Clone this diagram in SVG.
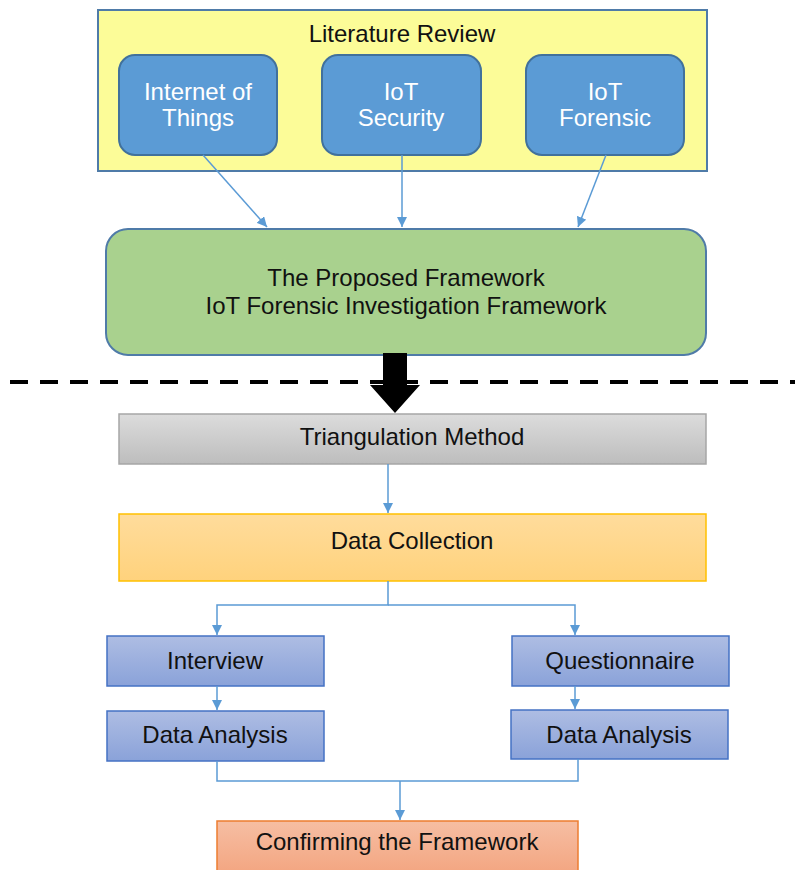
<svg xmlns="http://www.w3.org/2000/svg" width="795" height="870" viewBox="0 0 795 870">
<style>
text{font-family:"Liberation Sans",Arial,sans-serif;font-size:24px;fill:#111;text-anchor:middle}
.w{fill:#fff}
.blue{fill:#5b9bd5;stroke:#41719c;stroke-width:2}
.conn{fill:none;stroke:#5b9bd5;stroke-width:1.5}
.pur{fill:url(#gPur);stroke:#4472c4;stroke-width:1.5}
</style>
<defs>
<marker id="ah" viewBox="0 0 10 10" refX="10" refY="5" markerWidth="10" markerHeight="10" markerUnits="userSpaceOnUse" orient="auto">
<path d="M0,0 L10,5 L0,10 z" fill="#5b9bd5"/>
</marker>
<linearGradient id="gGrey" x1="0" y1="0" x2="0" y2="1"><stop offset="0" stop-color="#dcdcdc"/><stop offset="1" stop-color="#bdbdbd"/></linearGradient>
<linearGradient id="gOr" x1="0" y1="0" x2="0" y2="1"><stop offset="0" stop-color="#ffdc9c"/><stop offset="1" stop-color="#ffd27c"/></linearGradient>
<linearGradient id="gPur" x1="0" y1="0" x2="0" y2="1"><stop offset="0" stop-color="#aebde3"/><stop offset="1" stop-color="#8aa2d9"/></linearGradient>
<linearGradient id="gSal" x1="0" y1="0" x2="0" y2="1"><stop offset="0" stop-color="#f6bea3"/><stop offset="1" stop-color="#f3a47f"/></linearGradient>
</defs>

<g id="literature-review">
<rect x="98" y="10" width="609" height="161" fill="#fcfc98" stroke="#4f7ba8" stroke-width="2"/>
<text x="402" y="41.5">Literature Review</text>
</g>
<g id="internet-of-things">
<rect class="blue" x="119" y="55" width="158" height="100" rx="16"/>
<text class="w" x="198" y="99.5">Internet of</text>
<text class="w" x="198" y="125.5">Things</text>
</g>
<g id="iot-security">
<rect class="blue" x="322" y="55" width="159" height="100" rx="16"/>
<text class="w" x="401" y="99.5">IoT</text>
<text class="w" x="401" y="125.5">Security</text>
</g>
<g id="iot-forensic">
<rect class="blue" x="526" y="55" width="158" height="100" rx="16"/>
<text class="w" x="605" y="99.5">IoT</text>
<text class="w" x="605" y="125.5">Forensic</text>
</g>
<g id="proposed-framework">
<rect x="106" y="229" width="600" height="126" rx="22" fill="#a9d18e" stroke="#4f7ba8" stroke-width="2"/>
<text x="406" y="285.5">The Proposed Framework</text>
<text x="406" y="313.5">IoT Forensic Investigation Framework</text>
</g>
<g id="triangulation-method">
<rect x="119" y="414" width="587" height="50" fill="url(#gGrey)" stroke="#a6a6a6" stroke-width="1.5"/>
<text x="412" y="444.5">Triangulation Method</text>
</g>
<g id="data-collection">
<rect x="119" y="514" width="587" height="67" fill="url(#gOr)" stroke="#ffc000" stroke-width="1.5"/>
<text x="412" y="548.5">Data Collection</text>
</g>
<g id="interview">
<rect class="pur" x="107" y="636" width="217" height="50"/>
<text x="215" y="668.5">Interview</text>
</g>
<g id="questionnaire">
<rect class="pur" x="512" y="636" width="217" height="50"/>
<text x="620" y="668.5">Questionnaire</text>
</g>
<g id="data-analysis-left">
<rect class="pur" x="107" y="711" width="217" height="50"/>
<text x="215" y="742.5">Data Analysis</text>
</g>
<g id="data-analysis-right">
<rect class="pur" x="511" y="710" width="217" height="49"/>
<text x="619" y="742.5">Data Analysis</text>
</g>
<g id="confirming-framework">
<rect x="217" y="821" width="361" height="55" fill="url(#gSal)" stroke="#ed7d31" stroke-width="1.5"/>
<text x="397" y="849.5">Confirming the Framework</text>
</g>

<g id="connectors">
<line class="conn" x1="203" y1="155" x2="267" y2="227" marker-end="url(#ah)"/>
<line class="conn" x1="402" y1="155" x2="402" y2="227" marker-end="url(#ah)"/>
<line class="conn" x1="606" y1="155" x2="578" y2="227" marker-end="url(#ah)"/>
<line x1="10" y1="382" x2="795" y2="382" stroke="#000" stroke-width="4" stroke-dasharray="18,12"/>
<path d="M383,353 H407 V385 H420 L395,413 L370,385 H383 Z" fill="#000"/>
<line class="conn" x1="388" y1="464" x2="388" y2="513" marker-end="url(#ah)"/>
<path class="conn" d="M388,581 V605 H217 V635" marker-end="url(#ah)"/>
<path class="conn" d="M388,605 H575 V635" marker-end="url(#ah)"/>
<line class="conn" x1="217" y1="686" x2="217" y2="710" marker-end="url(#ah)"/>
<line class="conn" x1="575" y1="686" x2="575" y2="709" marker-end="url(#ah)"/>
<path class="conn" d="M217,761 V781 H578 V759"/>
<line class="conn" x1="400" y1="781" x2="400" y2="820" marker-end="url(#ah)"/>
</g>
</svg>
